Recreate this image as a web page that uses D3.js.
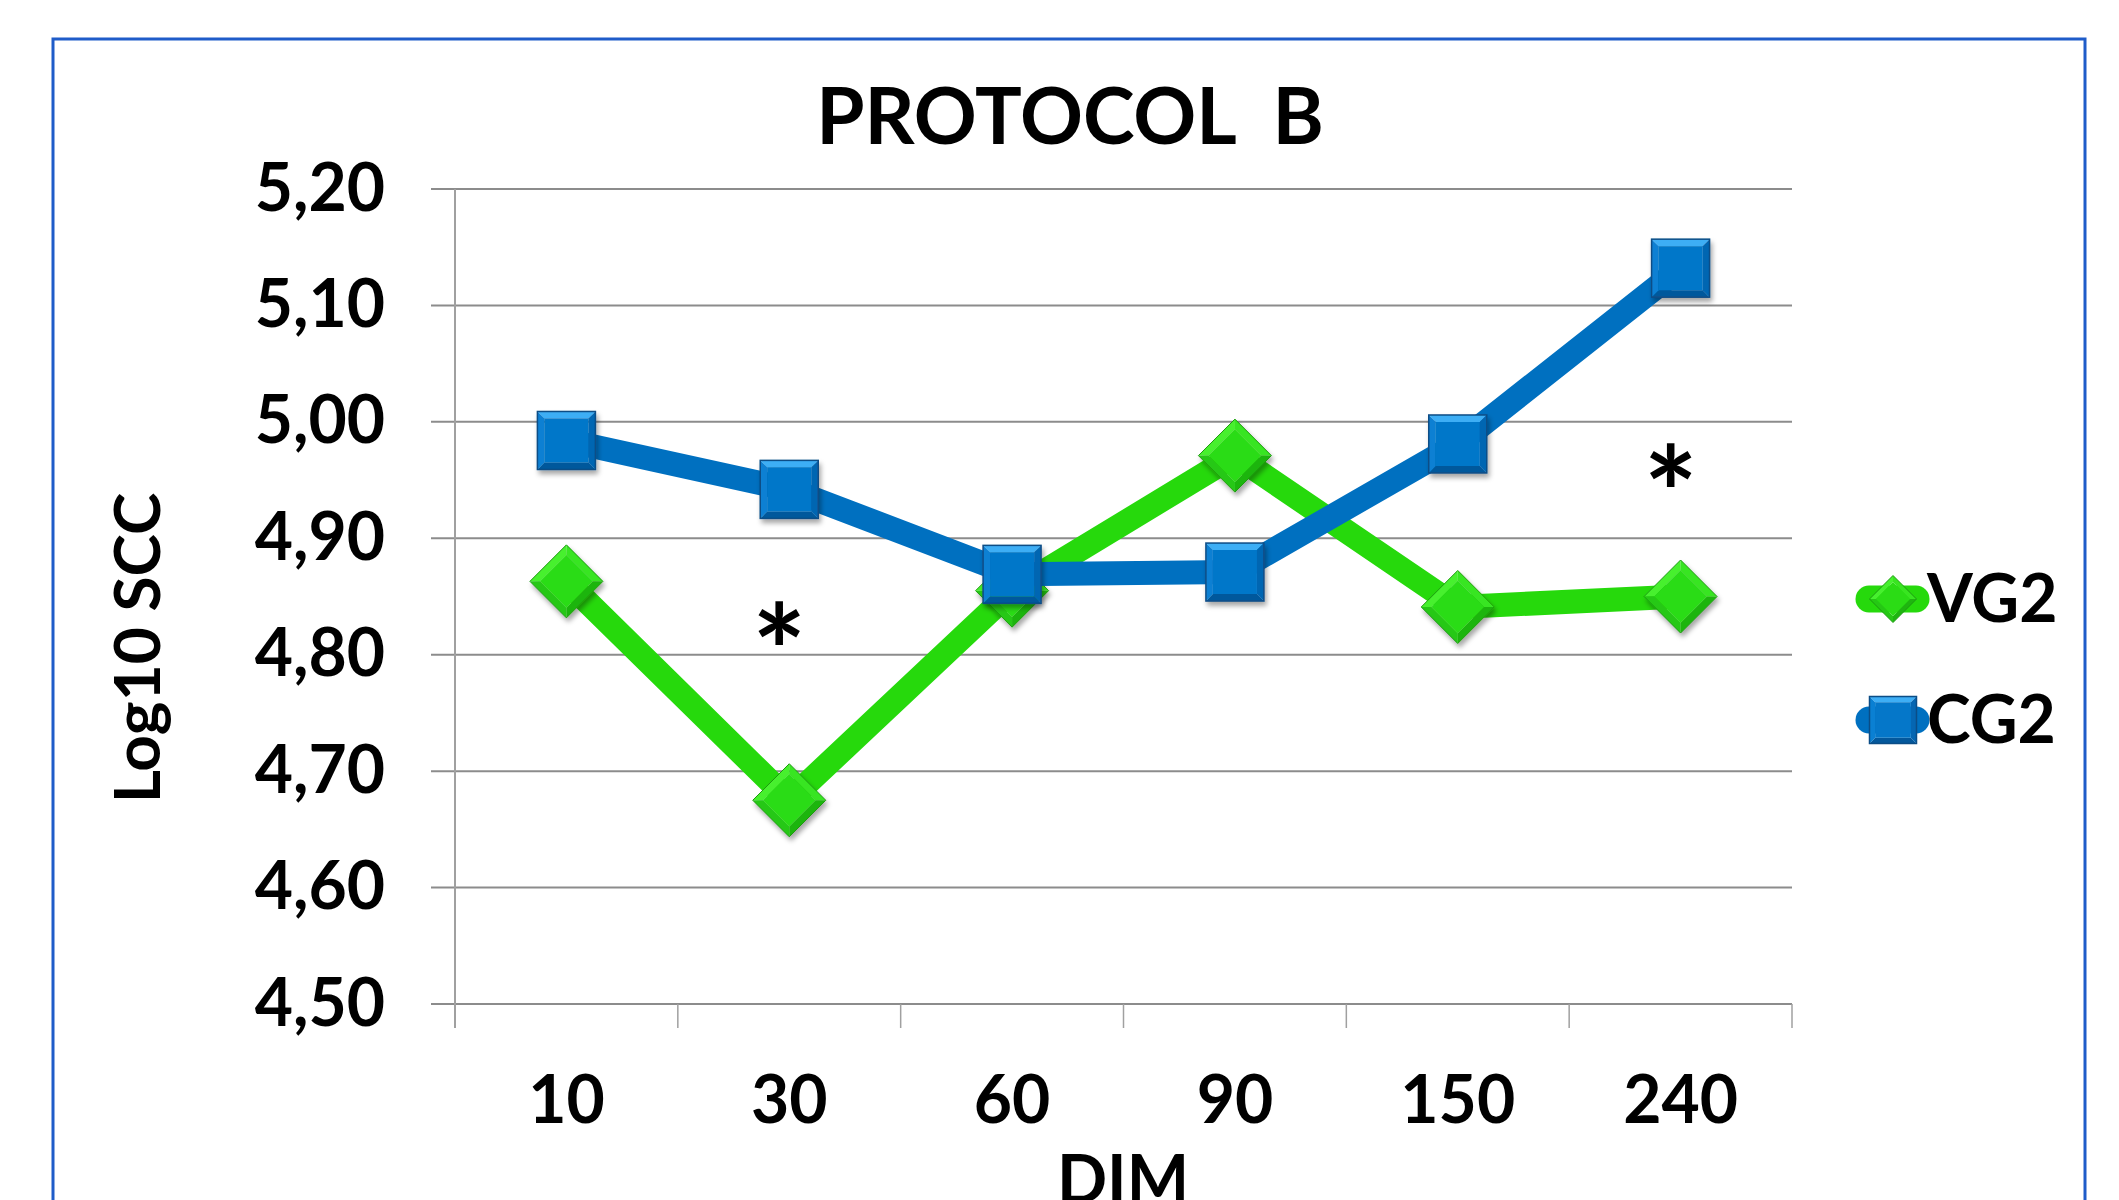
<!DOCTYPE html>
<html>
<head>
<meta charset="utf-8">
<script src="https://cdn.jsdelivr.net/npm/d3@7"></script>
<style>
  body { margin: 0; background: #fff; }
  text { font-family: Lato, "Noto Sans", sans-serif; font-weight: bold; fill: #000; }
</style>
</head>
<body>
<div class="canvas"></div>
<script>
// data
const days = ['10', '30', '60', '90', '150', '240'];
const vg2 = [4.863, 4.675, 4.855, 4.971, 4.841, 4.850];
const cg2 = [4.984, 4.942, 4.869, 4.871, 4.981, 5.132];
const yTicks = [4.5, 4.6, 4.7, 4.8, 4.9, 5.0, 5.1, 5.2];
// significance marks: category + height where the * sits
const starDays = ['30', '240'];
const starValues = [4.822, 4.958];

const dims = { width: 2119, height: 1200 };
const plot = { left: 455, right: 1792, top: 189, bottom: 1004 };

const svg = d3.select('.canvas')
    .append('svg')
    .attr('width', dims.width)
    .attr('height', dims.height);

// drop shadow for the markers
const defs = svg.append('defs');
const f = defs.append('filter').attr('id', 'shadow')
    .attr('x', '-30%').attr('y', '-30%').attr('width', '160%').attr('height', '160%');
f.append('feDropShadow').attr('dx', 2).attr('dy', 4).attr('stdDeviation', 2.5)
    .attr('flood-color', '#000').attr('flood-opacity', 0.35);

// outer frame
svg.append('rect')
    .attr('x', 53).attr('y', 39)
    .attr('width', 2032).attr('height', 1200)
    .attr('fill', 'none')
    .attr('stroke', '#1f5cc9')
    .attr('stroke-width', 3);

const x = d3.scaleBand()
    .domain(days)
    .range([plot.left, plot.right])
    .padding(0);

const y = d3.scaleLinear()
    .domain([4.5, 5.2])
    .range([plot.bottom, plot.top]);

const cx = d => x(d) + x.bandwidth() / 2;

// gridlines (with the small outside tick on the left)
svg.append('g')
    .selectAll('line')
    .data(yTicks)
    .join('line')
    .attr('x1', plot.left - 24)
    .attr('x2', plot.right)
    .attr('y1', d => y(d))
    .attr('y2', d => y(d))
    .attr('stroke', '#8c8c8c')
    .attr('stroke-width', 2);

// y axis line
svg.append('line')
    .attr('x1', plot.left).attr('x2', plot.left)
    .attr('y1', plot.top).attr('y2', plot.bottom + 24)
    .attr('stroke', '#a0a0a0')
    .attr('stroke-width', 2);

// x ticks on category boundaries
svg.append('g')
    .selectAll('line')
    .data(days.map(d => x(d)).concat([plot.right]))
    .join('line')
    .attr('x1', d => d).attr('x2', d => d)
    .attr('y1', plot.bottom).attr('y2', plot.bottom + 24)
    .attr('stroke', '#a0a0a0')
    .attr('stroke-width', 1.5);

// y tick labels
const yAxis = d3.axisLeft(y)
    .tickValues(yTicks)
    .tickSize(0)
    .tickPadding(70)
    .tickFormat(d => d.toFixed(2).replace('.', ','));

svg.append('g')
    .attr('transform', `translate(${plot.left},0)`)
    .call(yAxis)
    .call(g => g.select('.domain').remove())
    .selectAll('text')
    .attr('font-family', 'Lato, sans-serif')
    .attr('font-weight', 'bold')
    .attr('font-size', 66)
    .attr('fill', '#000');

// x tick labels
const xAxis = d3.axisBottom(x).tickSize(0).tickPadding(0);
svg.append('g')
    .attr('transform', `translate(0,${plot.bottom})`)
    .call(xAxis)
    .call(g => g.select('.domain').remove())
    .selectAll('text')
    .attr('dy', null)
    .attr('y', 119)
    .attr('font-family', 'Lato, sans-serif')
    .attr('font-weight', 'bold')
    .attr('font-size', 66)
    .attr('fill', '#000');

// titles
svg.append('text')
    .attr('x', 1070).attr('y', 144)
    .attr('text-anchor', 'middle')
    .attr('font-size', 78)
    .style('white-space', 'pre')
    .text('PROTOCOL  B');

svg.append('text')
    .attr('transform', 'translate(160,648) rotate(-90)')
    .attr('text-anchor', 'middle')
    .attr('font-size', 64)
    .text('Log10 SCC');

// cut by the bottom edge, as in the original
svg.append('text')
    .attr('x', 1123).attr('y', 1203)
    .attr('text-anchor', 'middle')
    .attr('font-size', 66)
    .text('DIM');

// bevelled markers
const drawSquare = (g, s) => {
    const h = s / 2, b = s * 0.12;
    const faces = [
        { p: [[-h, -h], [h, -h], [h - b, -h + b], [-h + b, -h + b]], c: '#3eaef5' },
        { p: [[-h, h], [h, h], [h - b, h - b], [-h + b, h - b]], c: '#04589c' },
        { p: [[-h, -h], [-h + b, -h + b], [-h + b, h - b], [-h, h]], c: '#0a80d3' },
        { p: [[h, -h], [h - b, -h + b], [h - b, h - b], [h, h]], c: '#0566b2' },
        { p: [[-h + b, -h + b], [h - b, -h + b], [h - b, h - b], [-h + b, h - b]], c: '#0577c9' }
    ];
    g.selectAll('polygon.f')
        .data(faces)
        .join('polygon')
        .attr('class', 'f')
        .attr('points', d => d.p.join(' '))
        .attr('fill', d => d.c);
    g.append('rect')
        .attr('x', -h).attr('y', -h).attr('width', s).attr('height', s)
        .attr('fill', 'none').attr('stroke', '#0b4d86').attr('stroke-width', 1.5);
};

const drawDiamond = (g, r) => {
    const b = r * 0.28;
    const T = [0, -r], R = [r, 0], B = [0, r], L = [-r, 0];
    const t = [0, -r + b], rr = [r - b, 0], bb = [0, r - b], l = [-r + b, 0];
    const faces = [
        { p: [L, T, t, l], c: '#47f02e' },
        { p: [T, R, rr, t], c: '#38e520' },
        { p: [R, B, bb, rr], c: '#1fb510' },
        { p: [B, L, l, bb], c: '#25c814' },
        { p: [t, rr, bb, l], c: '#2bdc15' }
    ];
    g.selectAll('polygon.f')
        .data(faces)
        .join('polygon')
        .attr('class', 'f')
        .attr('points', d => d.p.join(' '))
        .attr('fill', d => d.c);
    g.append('polygon')
        .attr('points', [T, R, B, L].join(' '))
        .attr('fill', 'none').attr('stroke', '#1c9c10').attr('stroke-width', 1);
};

const series = [
    { name: 'VG2', values: vg2, colour: '#26d90c', marker: drawDiamond, size: 36.5, legendSize: 23.5 },
    { name: 'CG2', values: cg2, colour: '#0070c0', marker: drawSquare, size: 58, legendSize: 47 }
];

const line = d3.line()
    .x(d => cx(d.day))
    .y(d => y(d.value));

series.forEach(s => {
    const pts = days.map((day, i) => ({ day, value: s.values[i] }));
    svg.append('path')
        .datum(pts)
        .attr('d', line)
        .attr('fill', 'none')
        .attr('stroke', s.colour)
        .attr('stroke-width', 24)
        .attr('stroke-linejoin', 'round');

    svg.append('g')
        .selectAll('g')
        .data(pts)
        .join('g')
        .attr('transform', d => `translate(${cx(d.day)},${y(d.value)})`)
        .attr('filter', 'url(#shadow)')
        .each(function() { s.marker(d3.select(this), s.size); });
});

// asterisks
svg.append('g')
    .selectAll('text')
    .data(starDays.map((d, i) => ({ day: d, value: starValues[i] })))
    .join('text')
    .attr('x', d => cx(d.day) - 10)
    .attr('y', d => y(d.value) + 70)
    .attr('text-anchor', 'middle')
    .attr('font-size', 128)
    .text('*');

// legend
const legend = svg.append('g');
series.forEach((s, i) => {
    const ly = 599 + i * 121;
    legend.append('line')
        .attr('x1', 1869).attr('x2', 1916)
        .attr('y1', ly).attr('y2', ly)
        .attr('stroke', s.colour)
        .attr('stroke-width', 27)
        .attr('stroke-linecap', 'round');
    const m = legend.append('g')
        .attr('transform', `translate(1893,${ly})`);
    s.marker(m, s.legendSize);
    legend.append('text')
        .attr('x', 1927).attr('y', ly + 23)
        .attr('font-size', 66)
        .text(s.name);
});
</script>
</body>
</html>
